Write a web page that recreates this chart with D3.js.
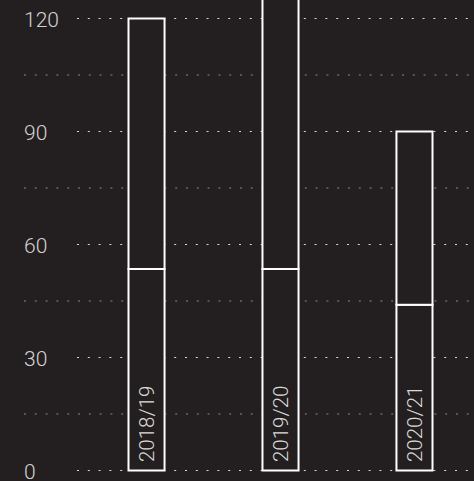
<!DOCTYPE html>
<html>
<head>
<meta charset="utf-8">
<script src="https://cdn.jsdelivr.net/npm/d3@7"></script>
<style>
  html, body { margin: 0; padding: 0; background: #231f20; overflow: hidden; }
  svg { display: block; }
</style>
</head>
<body>
<div id="chart"></div>
<script>
// chart values
const seasons = ['2018/19', '2019/20', '2020/21'];
const lowerPart = [53.5, 53.5, 44];
const upperPart = [66.5, 81.5, 46];
const majorTicks = [0, 30, 60, 90, 120];
const minorTicks = [15, 45, 75, 105];

const width = 474;
const height = 481;
const bg = '#231f20';

const svg = d3.select('#chart').append('svg')
    .attr('width', width)
    .attr('height', height);

svg.append('rect')
    .attr('width', width)
    .attr('height', height)
    .attr('fill', bg);

const y = d3.scaleLinear().domain([0, 120]).range([470.5, 18.5]);
const x = d3.scaleBand().domain(seasons)
    .range([79, 482])
    .paddingInner(0.716)
    .paddingOuter(0.362);

// grid lines
svg.selectAll('.minor')
    .data(minorTicks)
    .enter().append('line')
    .attr('class', 'minor')
    .attr('x1', 24).attr('x2', width)
    .attr('y1', d => y(d)).attr('y2', d => y(d))
    .attr('stroke', '#8a8788')
    .attr('stroke-width', 1.2)
    .attr('stroke-dasharray', '2,8.8');

svg.selectAll('.major')
    .data(majorTicks)
    .enter().append('line')
    .attr('class', 'major')
    .attr('x1', 77).attr('x2', width)
    .attr('y1', d => y(d)).attr('y2', d => y(d))
    .attr('stroke', '#d8d6d6')
    .attr('stroke-width', 1.2)
    .attr('stroke-dasharray', '2,8.8');

// tick labels
svg.selectAll('.tick-label')
    .data(majorTicks)
    .enter().append('text')
    .attr('class', 'tick-label')
    .attr('x', 24)
    .attr('y', d => y(d))
    .attr('dy', '0.42em')
    .attr('font-family', 'Roboto')
    .attr('font-weight', 300)
    .attr('font-size', 21)
    .attr('fill', '#d4d2d2')
    .text(d => d);

// stacked bars
const stack = seasons.map((s, i) => ({
  season: s,
  parts: [[0, lowerPart[i]], [lowerPart[i], lowerPart[i] + upperPart[i]]]
}));

const bars = svg.selectAll('.bar')
    .data(stack)
    .enter().append('g')
    .attr('class', 'bar');

bars.selectAll('rect')
    .data(d => d.parts.map(p => ({ season: d.season, p })))
    .enter().append('rect')
    .attr('x', d => x(d.season) + 1)
    .attr('width', x.bandwidth() - 2)
    .attr('y', d => y(d.p[1]))
    .attr('height', d => y(d.p[0]) - y(d.p[1]))
    .attr('fill', bg)
    .attr('stroke', '#ffffff')
    .attr('stroke-width', 2);

bars.append('text')
    .attr('transform', d => `translate(${x(d.season) + x.bandwidth() / 2},462) rotate(-90)`)
    .attr('dy', '0.36em')
    .attr('font-family', 'Roboto')
    .attr('font-weight', 300)
    .attr('font-size', 20.5)
    .attr('fill', '#dcdada')
    .text(d => d.season);
</script>
</body>
</html>
